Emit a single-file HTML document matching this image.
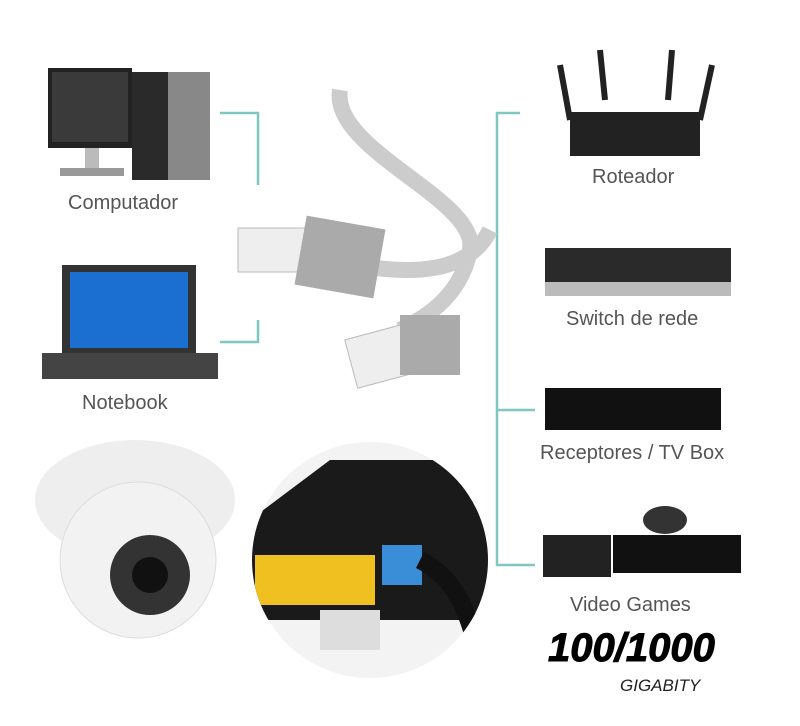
<!DOCTYPE html>
<html><head><meta charset="utf-8"><style>
body{margin:0;width:800px;height:726px;background:#fff;overflow:hidden;position:relative;font-family:"Liberation Sans",sans-serif}
.l{position:absolute;color:#555;font-size:20px}
</style></head><body>
<svg width="800" height="726" style="position:absolute;left:0;top:0">
<g stroke="#7fc8c0" stroke-width="2.5" fill="none">
<path d="M220 113 H258 V185"/>
<path d="M258 320 V342 H220"/>
<path d="M520 113 H497 V565 H535"/>
<path d="M497 410 H535"/>
</g>
<rect x="48" y="68" width="84" height="80" fill="#222"/>
<rect x="52" y="72" width="76" height="70" fill="#3a3a3a"/>
<rect x="85" y="148" width="14" height="20" fill="#bbb"/>
<rect x="60" y="168" width="64" height="8" fill="#999"/>
<rect x="132" y="72" width="78" height="108" fill="#2a2a2a"/>
<rect x="168" y="72" width="42" height="108" fill="#888"/>
<rect x="62" y="265" width="134" height="88" fill="#333"/>
<rect x="70" y="272" width="118" height="76" fill="#1a6fd0"/>
<rect x="42" y="353" width="176" height="26" fill="#444"/>
<path d="M340 90 C330 150 480 200 470 250 C460 300 420 320 400 330" stroke="#ccc" stroke-width="16" fill="none"/>
<path d="M330 260 C420 280 470 270 490 230" stroke="#ccc" stroke-width="16" fill="none"/>
<rect x="238" y="228" width="70" height="44" fill="#eee" stroke="#bbb"/>
<rect x="300" y="222" width="80" height="70" fill="#aaa" transform="rotate(10 340 257)"/>
<rect x="350" y="330" width="70" height="50" fill="#eee" stroke="#bbb" transform="rotate(-15 385 355)"/>
<rect x="400" y="315" width="60" height="60" fill="#aaa"/>
<rect x="570" y="112" width="130" height="44" fill="#222"/>
<g stroke="#222" stroke-width="6"><path d="M570 120 L560 65"/><path d="M605 100 L600 50"/><path d="M668 100 L672 50"/><path d="M700 120 L712 65"/></g>
<rect x="545" y="248" width="186" height="48" fill="#2a2a2a"/>
<rect x="545" y="282" width="186" height="14" fill="#bbb"/>
<rect x="545" y="388" width="176" height="42" fill="#111"/>
<rect x="543" y="535" width="68" height="42" fill="#222"/>
<rect x="613" y="535" width="128" height="38" fill="#111"/>
<ellipse cx="665" cy="520" rx="22" ry="14" fill="#333"/>
<ellipse cx="135" cy="500" rx="100" ry="60" fill="#eee"/>
<circle cx="138" cy="560" r="78" fill="#f2f2f2" stroke="#ddd"/>
<circle cx="150" cy="575" r="40" fill="#333"/>
<circle cx="150" cy="575" r="18" fill="#111"/>
<clipPath id="c"><circle cx="370" cy="560" r="118"/></clipPath>
<g clip-path="url(#c)">
<rect x="250" y="440" width="240" height="240" fill="#f3f3f3"/>
<path d="M250 520 L330 460 L490 460 L490 620 L250 620Z" fill="#1a1a1a"/>
<rect x="255" y="555" width="120" height="50" fill="#f0c020"/>
<rect x="382" y="545" width="40" height="40" fill="#3a8ed8"/>
<path d="M420 560 C460 580 470 620 480 660" stroke="#111" stroke-width="18" fill="none"/>
<rect x="320" y="610" width="60" height="40" fill="#ddd"/>
</g>
</svg>
<div class="l" style="left:68px;top:192px">Computador</div>
<div class="l" style="left:82px;top:392px">Notebook</div>
<div class="l" style="left:592px;top:166px">Roteador</div>
<div class="l" style="left:566px;top:308px">Switch de rede</div>
<div class="l" style="left:540px;top:442px">Receptores / TV Box</div>
<div class="l" style="left:570px;top:594px">Video Games</div>
<div style="position:absolute;left:548px;top:626px;font-size:40px;font-weight:bold;font-style:italic;color:#000;-webkit-text-stroke:1px #000">100/1000</div>
<div style="position:absolute;left:620px;top:676px;font-size:17px;font-style:italic;color:#222">GIGABITY</div>
</body></html>
